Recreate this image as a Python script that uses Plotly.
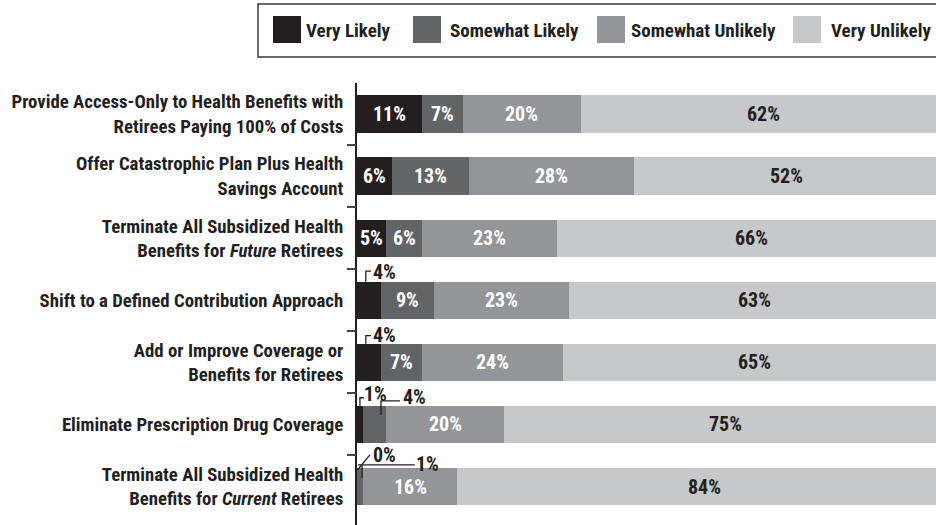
import plotly.graph_objects as go

# ---- data -------------------------------------------------------------
categories = [
    "Provide Access-Only to Health Benefits with<br>Retirees Paying 100% of Costs",
    "Offer Catastrophic Plan Plus Health<br>Savings Account",
    "Terminate All Subsidized Health<br>Benefits for <i>Future</i> Retirees",
    "Shift to a Defined Contribution Approach",
    "Add or Improve Coverage or<br>Benefits for Retirees",
    "Eliminate Prescription Drug Coverage",
    "Terminate All Subsidized Health<br>Benefits for <i>Current</i> Retirees",
]
series_names = ["Very Likely", "Somewhat Likely", "Somewhat Unlikely", "Very Unlikely"]
very_likely = [11, 6, 5, 4, 4, 1, 0]
somewhat_likely = [7, 13, 6, 9, 7, 4, 1]
somewhat_unlikely = [20, 28, 23, 23, 24, 20, 16]
very_unlikely = [62, 52, 66, 63, 65, 75, 84]

# ---- styling ----------------------------------------------------------
FONT = "Roboto Condensed, Liberation Sans Narrow, DejaVu Sans Condensed, sans-serif"
INK = "#231f20"
colors = ["#231f20", "#636466", "#939598", "#c7c8ca"]
label_colors = ["white", "white", "white", INK]

W, H = 936, 525
M_L, M_R, M_T, M_B = 357, 0, 83, 0
PW, PH = W - M_L - M_R, H - M_T - M_B
X_MAX = 98.3
Y_RANGE = [6.62, -0.5]
BAR_W = 0.6


def px2x(px):
    return (px - M_L) / PW


def py2y(py):
    return (H - py) / PH


series = [very_likely, somewhat_likely, somewhat_unlikely, very_unlikely]

fig = go.Figure()
for name, vals, col in zip(series_names, series, colors):
    fig.add_trace(go.Bar(
        y=categories, x=vals, orientation="h", name=name,
        marker=dict(color=col, line=dict(width=0)),
        width=BAR_W, showlegend=False, hoverinfo="skip",
    ))

annotations = []
shapes = []
VAL_SIZE = 20

# value labels centred in each segment wide enough to hold them
for i in range(len(categories)):
    start = 0
    for s, vals in enumerate(series):
        v = vals[i]
        if v >= 5:
            annotations.append(dict(
                x=start + v / 2, y=i, xref="x", yref="y2", text=f"{v}%",
                showarrow=False, font=dict(family=FONT, size=VAL_SIZE, color=label_colors[s], weight="bold"),
            ))
        start += v

# callouts for narrow segments: (row, series, leader points as (offset from segment start %, row offset), text x offset %, text row offset)
callouts = [
    (3, 0, [(1.5, -0.3), (1.5, -0.47), (2.4, -0.47)], 2.3, -0.46),
    (4, 0, [(1.5, -0.3), (1.5, -0.43), (2.4, -0.43)], 2.3, -0.44),
    (5, 0, [(0.5, -0.3), (0.5, -0.43), (1.2, -0.43)], 0.8, -0.49),
    (5, 1, [(3.07, -0.15), (3.07, -0.38), (6.3, -0.38)], 6.5, -0.44),
    (6, 0, [(0.1, -0.27), (2.2, -0.51)], 2.3, -0.515),
    (6, 1, [(0.85, -0.14), (0.85, -0.35), (0.17, -0.35), (9.8, -0.35)], 9.6, -0.37),
]
for row, s, pts, tx, ty in callouts:
    seg_start = sum(series[k][row] for k in range(s))
    path = ""
    for j, (dx, dy) in enumerate(pts):
        path += ("M" if j == 0 else "L") + f"{seg_start + dx},{row + dy} "
    shapes.append(dict(type="path", path=path.strip(), xref="x", yref="y2",
                       line=dict(color=INK, width=1.3)))
    annotations.append(dict(
        x=seg_start + tx, y=row + ty, xref="x", yref="y2", xanchor="left",
        text=f"{series[s][row]}%", showarrow=False,
        font=dict(family=FONT, size=VAL_SIZE, color=INK, weight="bold"),
    ))

# legend box with large swatches
shapes.append(dict(type="rect", xref="paper", yref="paper",
                   x0=px2x(258), x1=px2x(948), y0=py2y(57), y1=py2y(4),
                   line=dict(color="#3a3a3a", width=1.5), fillcolor="white", layer="below"))
swatch_left = [273, 413, 597, 793]
text_left = [306, 450, 631, 831]
for name, col, sx, tx in zip(series_names, colors, swatch_left, text_left):
    shapes.append(dict(type="rect", xref="paper", yref="paper",
                       x0=px2x(sx), x1=px2x(sx + 28), y0=py2y(43), y1=py2y(16),
                       line=dict(width=0), fillcolor=col))
    annotations.append(dict(
        x=px2x(tx - 2), y=py2y(31), xref="paper", yref="paper", xanchor="left", yanchor="middle",
        text=name, showarrow=False, font=dict(family=FONT, size=19, color=INK, weight="bold"),
    ))

fig.update_layout(
    width=W, height=H,
    margin=dict(l=M_L, r=M_R, t=M_T, b=M_B, pad=0, autoexpand=False),
    barmode="stack", bargap=0.4,
    plot_bgcolor="white", paper_bgcolor="white",
    font=dict(family=FONT, size=19, color=INK, weight="bold"),
    xaxis=dict(range=[0, X_MAX], visible=False, showgrid=False, zeroline=False,
               fixedrange=True, automargin=False),
    yaxis=dict(
        type="category", categoryorder="array", categoryarray=categories,
        range=Y_RANGE, showline=True, linecolor=INK, linewidth=2, automargin=False,
        ticks="", showgrid=False, zeroline=False, ticklabelstandoff=8,
        tickfont=dict(family=FONT, size=18.8, color=INK, weight="bold"),
    ),
    yaxis2=dict(
        overlaying="y", side="left", range=Y_RANGE, automargin=False,
        tickmode="array", tickvals=[0.5, 1.5, 2.5, 3.5, 4.5, 5.5],
        ticks="outside", ticklen=9, tickwidth=1.5, tickcolor="#444",
        showticklabels=False, showgrid=False, zeroline=False, showline=False,
    ),
    shapes=shapes, annotations=annotations,
    showlegend=False,
)

fig.write_html("out.html")
